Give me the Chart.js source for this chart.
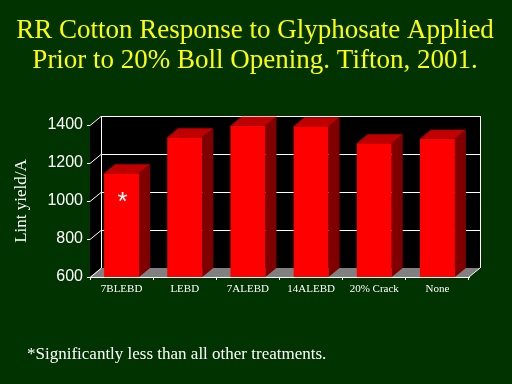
<!DOCTYPE html>
<html>
<head>
<meta charset="utf-8">
<title>RR Cotton Response to Glyphosate</title>
<script src="https://cdn.jsdelivr.net/npm/chart.js@4/dist/chart.umd.min.js"></script>
<style>
  html, body { margin: 0; padding: 0; background: #003300; }
  canvas { display: block; }
</style>
</head>
<body>
<canvas id="mainChart" width="512" height="384"></canvas>
<script>
// Datos
const treatments = ['7BLEBD', 'LEBD', '7ALEBD', '14ALEBD', '20% Crack', 'None'];
const lintYield = [1146, 1335, 1396, 1394, 1304, 1327];
const yTicks = [600, 800, 1000, 1200, 1400];
const titleLines = ['RR Cotton Response to Glyphosate Applied', 'Prior to 20% Boll Opening. Tifton, 2001.'];
const footnote = '*Significantly less than all other treatments.';
const starredIndex = 0;   // 7BLEBD
const starLevel = 1020;   // altura del asterisco (unidades del eje)

// profundidad 3D
const DX = 11, DY = 9;

const BG = '#003300';
const RED_FRONT = '#ff0000';
const RED_TOP = '#c00000';
const RED_SIDE = '#800000';

// fondo, pared trasera, piso y rejilla
const backdrop = {
  id: 'backdrop',
  beforeDraw(chart) {
    const ctx = chart.ctx;
    ctx.save();
    ctx.fillStyle = BG;
    ctx.fillRect(0, 0, chart.width, chart.height);
    ctx.restore();
  },
  beforeDatasetsDraw(chart) {
    const ctx = chart.ctx;
    const {left, right, top, bottom} = chart.chartArea;
    const y = chart.scales.y;
    ctx.save();
    // paredes negras (lateral + trasera)
    ctx.fillStyle = '#000';
    ctx.beginPath();
    ctx.moveTo(left, top);
    ctx.lineTo(left + DX, top - DY);
    ctx.lineTo(right + DX, top - DY);
    ctx.lineTo(right + DX, bottom - DY);
    ctx.lineTo(right, bottom);
    ctx.lineTo(left, bottom);
    ctx.closePath();
    ctx.fill();
    // piso gris
    ctx.fillStyle = '#808080';
    ctx.beginPath();
    ctx.moveTo(left, bottom);
    ctx.lineTo(right, bottom);
    ctx.lineTo(right + DX, bottom - DY);
    ctx.lineTo(left + DX, bottom - DY);
    ctx.closePath();
    ctx.fill();
    // rejilla en la pared trasera
    ctx.strokeStyle = '#fff';
    ctx.lineWidth = 1;
    ctx.beginPath();
    yTicks.forEach(v => {
      const py = Math.round(y.getPixelForValue(v)) + 0.5;
      if (v > yTicks[0]) {
        ctx.moveTo(left + DX, py - DY);
        ctx.lineTo(right + DX, py - DY);
      }
      ctx.moveTo(left, py);
      ctx.lineTo(left + DX, py - DY);
    });
    ctx.moveTo(left + DX + 0.5, top - DY);
    ctx.lineTo(left + DX + 0.5, bottom - DY);
    ctx.moveTo(right + DX + 0.5, top - DY);
    ctx.lineTo(right + DX + 0.5, bottom - DY);
    ctx.moveTo(right, bottom);
    ctx.lineTo(right + DX, bottom - DY);
    ctx.stroke();
    ctx.restore();
  },
  afterDatasetsDraw(chart) {
    const ctx = chart.ctx;
    const meta = chart.getDatasetMeta(0);
    const floor = chart.chartArea.bottom;
    ctx.save();
    meta.data.forEach(bar => {
      const L = bar.x - bar.width / 2;
      const R = bar.x + bar.width / 2;
      const base = Math.min(bar.base, floor);
      // cara superior
      ctx.fillStyle = RED_TOP;
      ctx.beginPath();
      ctx.moveTo(L, bar.y);
      ctx.lineTo(R, bar.y);
      ctx.lineTo(R + DX, bar.y - DY);
      ctx.lineTo(L + DX, bar.y - DY);
      ctx.closePath();
      ctx.fill();
      // cara lateral
      ctx.fillStyle = RED_SIDE;
      ctx.beginPath();
      ctx.moveTo(R, bar.y);
      ctx.lineTo(R + DX, bar.y - DY);
      ctx.lineTo(R + DX, base - DY);
      ctx.lineTo(R, base);
      ctx.closePath();
      ctx.fill();
    });
    // asterisco
    const sb = meta.data[starredIndex];
    const sy = chart.scales.y.getPixelForValue(starLevel);
    ctx.fillStyle = '#fff';
    ctx.font = '26px "Liberation Sans"';
    ctx.textAlign = 'center';
    ctx.textBaseline = 'alphabetic';
    const m = ctx.measureText('*');
    ctx.fillText('*', sb.x + 1, sy + (m.actualBoundingBoxAscent - m.actualBoundingBoxDescent) / 2);
    ctx.restore();
  },
  afterDraw(chart) {
    const ctx = chart.ctx;
    ctx.save();
    ctx.fillStyle = '#ffff00';
    ctx.font = '27px "Liberation Serif"';
    ctx.textAlign = 'center';
    ctx.textBaseline = 'alphabetic';
    ctx.fillText(titleLines[0], 255, 38);
    ctx.fillText(titleLines[1], 255, 68);
    ctx.fillStyle = '#fff';
    ctx.font = '17px "Liberation Serif"';
    ctx.textAlign = 'left';
    ctx.fillText(footnote, 27, 359);
    ctx.restore();
  }
};

const ctx = document.getElementById('mainChart').getContext('2d');
const chart = new Chart(ctx, {
  type: 'bar',
  data: {
    labels: treatments,
    datasets: [{
      label: 'Lint yield/A',
      data: lintYield,
      backgroundColor: RED_FRONT,
      borderWidth: 0,
      barPercentage: 0.554,
      categoryPercentage: 1
    }]
  },
  options: {
    responsive: false,
    animation: false,
    devicePixelRatio: 1,
    layout: { padding: { top: 125, right: 43, left: 0, bottom: 0 } },
    plugins: {
      legend: { display: false },
      tooltip: { enabled: false }
    },
    scales: {
      x: {
        grid: { drawOnChartArea: false, color: '#fff', tickLength: 3, offset: true },
        border: { color: '#fff' },
        ticks: { color: '#fff', font: { family: 'Liberation Serif', size: 11 }, padding: 3, maxRotation: 0, autoSkip: false },
        afterFit: s => { s.height = 107; }
      },
      y: {
        min: 600,
        max: 1400,
        afterBuildTicks: s => { s.ticks = yTicks.map(v => ({ value: v })); },
        grid: { drawOnChartArea: false, color: '#fff', tickLength: 3 },
        border: { color: '#fff' },
        ticks: { color: '#fff', font: { family: 'Liberation Sans', size: 16 }, padding: 4, callback: v => String(v) },
        title: {
          display: true,
          text: 'Lint yield/A',
          color: '#fff',
          font: { family: 'Liberation Serif', size: 17 },
          padding: { top: 11, bottom: 0 }
        },
        afterFit: s => { s.width = 90; }
      }
    }
  },
  plugins: [backdrop]
});
</script>
</body>
</html>
